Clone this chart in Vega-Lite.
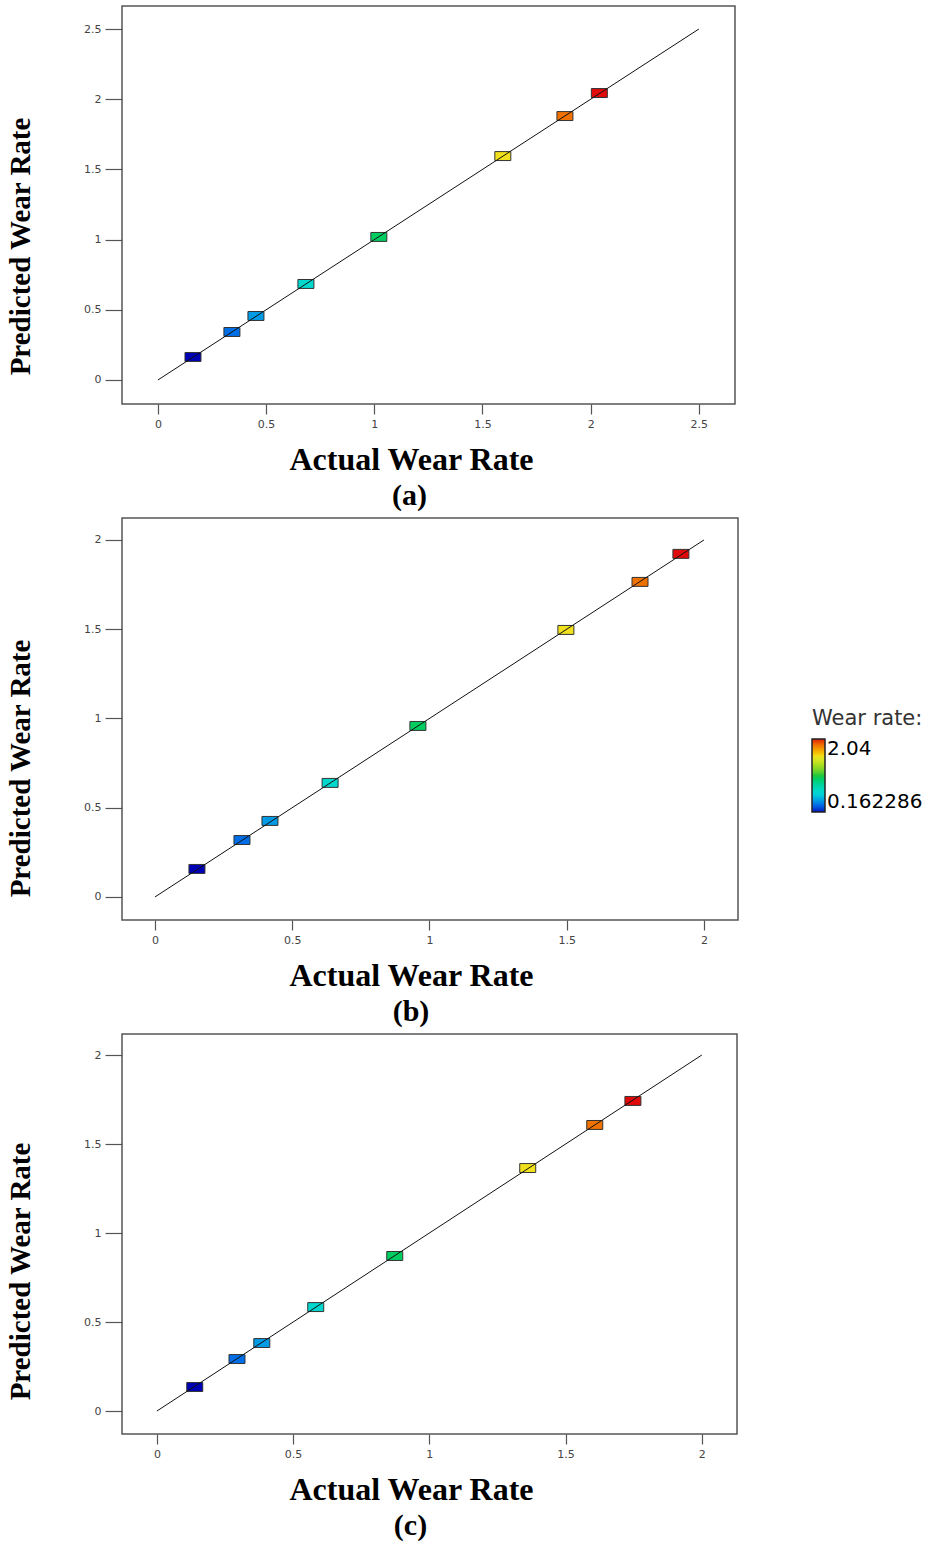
{
  "$schema": "https://vega.github.io/schema/vega-lite/v6.json",
  "background": "white",
  "padding": {"left": 5, "top": 5, "right": 5, "bottom": 5},
  "spacing": 5,
  "datasets": {
    "pts": [
      {"panel": "a", "run": 1, "rate": 0.162286, "actual": 0.162, "predicted": 0.164},
      {"panel": "a", "run": 2, "rate": 0.342, "actual": 0.342, "predicted": 0.342},
      {"panel": "a", "run": 3, "rate": 0.453, "actual": 0.453, "predicted": 0.456},
      {"panel": "a", "run": 4, "rate": 0.684, "actual": 0.684, "predicted": 0.684},
      {"panel": "a", "run": 5, "rate": 1.021, "actual": 1.021, "predicted": 1.019},
      {"panel": "a", "run": 6, "rate": 1.594, "actual": 1.594, "predicted": 1.595},
      {"panel": "a", "run": 7, "rate": 1.881, "actual": 1.881, "predicted": 1.880},
      {"panel": "a", "run": 8, "rate": 2.04, "actual": 2.04, "predicted": 2.044},
      {"panel": "b", "run": 1, "rate": 0.162286, "actual": 0.153, "predicted": 0.157},
      {"panel": "b", "run": 2, "rate": 0.342, "actual": 0.317, "predicted": 0.319},
      {"panel": "b", "run": 3, "rate": 0.453, "actual": 0.419, "predicted": 0.426},
      {"panel": "b", "run": 4, "rate": 0.684, "actual": 0.638, "predicted": 0.639},
      {"panel": "b", "run": 5, "rate": 1.021, "actual": 0.958, "predicted": 0.958},
      {"panel": "b", "run": 6, "rate": 1.594, "actual": 1.497, "predicted": 1.496},
      {"panel": "b", "run": 7, "rate": 1.881, "actual": 1.767, "predicted": 1.765},
      {"panel": "b", "run": 8, "rate": 2.04, "actual": 1.916, "predicted": 1.922},
      {"panel": "c", "run": 1, "rate": 0.162286, "actual": 0.139, "predicted": 0.135},
      {"panel": "c", "run": 2, "rate": 0.342, "actual": 0.294, "predicted": 0.292},
      {"panel": "c", "run": 3, "rate": 0.453, "actual": 0.385, "predicted": 0.382},
      {"panel": "c", "run": 4, "rate": 0.684, "actual": 0.583, "predicted": 0.584},
      {"panel": "c", "run": 5, "rate": 1.021, "actual": 0.873, "predicted": 0.871},
      {"panel": "c", "run": 6, "rate": 1.594, "actual": 1.361, "predicted": 1.365},
      {"panel": "c", "run": 7, "rate": 1.881, "actual": 1.607, "predicted": 1.607},
      {"panel": "c", "run": 8, "rate": 2.04, "actual": 1.747, "predicted": 1.742}
    ],
    "lines": [
      {"panel": "a", "actual": 0, "predicted": 0},
      {"panel": "a", "actual": 2.5, "predicted": 2.5},
      {"panel": "b", "actual": 0, "predicted": 0},
      {"panel": "b", "actual": 2, "predicted": 2},
      {"panel": "c", "actual": 0, "predicted": 0},
      {"panel": "c", "actual": 2, "predicted": 2}
    ]
  },
  "vconcat": [
    {
      "width": 613,
      "height": 398,
      "title": {"text": "(a)", "orient": "bottom", "anchor": "middle", "dx": -19, "offset": 6},
      "layer": [
        {
          "data": {"name": "pts"},
          "transform": [{"filter": "datum.panel === 'a'"}],
          "mark": {"type": "point", "filled": true, "shape": "M-1,-0.56H1V0.56H-1Z", "size": 256, "stroke": "#333", "strokeWidth": 1, "opacity": 1},
          "encoding": {
            "x": {"field": "actual", "type": "quantitative", "scale": {"domain": [-0.166, 2.667], "nice": false, "zero": false},
                  "axis": {"values": [0, 0.5, 1, 1.5, 2, 2.5], "title": "Actual Wear Rate", "titleX": 289}},
            "y": {"field": "predicted", "type": "quantitative", "scale": {"domain": [-0.171, 2.664], "nice": false, "zero": false},
                  "axis": {"values": [0, 0.5, 1, 1.5, 2, 2.5], "title": "Predicted Wear Rate", "titleY": 240}},
            "color": {"field": "rate", "type": "quantitative", "title": "Wear rate:",
                      "scale": {"domain": [0.162286, 0.631, 1.101, 1.57, 2.04], "range": ["#0000b4", "#2ad8d8", "#22c83a", "#f0ea2a", "#e00a0a"]},
                      "legend": {"values": [0.162286, 2.04], "labelExpr": "datum.value > 1 ? '2.04' : '0.162286'",
                                 "encode": {"labels": {"fill": {"condition": {"test": "datum.value > 1", "value": "#c0302a"}, "value": "#2a2f80"}}}}}
          }
        },
        {
          "data": {"name": "lines"},
          "transform": [{"filter": "datum.panel === 'a'"}],
          "mark": {"type": "line", "color": "#111", "strokeWidth": 1},
          "encoding": {
            "x": {"field": "actual", "type": "quantitative"},
            "y": {"field": "predicted", "type": "quantitative"}
          }
        }
      ]
    },
    {
      "width": 616,
      "height": 402,
      "title": {"text": "(b)", "orient": "bottom", "anchor": "middle", "dx": -19, "offset": 6},
      "layer": [
        {
          "data": {"name": "pts"},
          "transform": [{"filter": "datum.panel === 'b'"}],
          "mark": {"type": "point", "filled": true, "shape": "M-1,-0.56H1V0.56H-1Z", "size": 256, "stroke": "#333", "strokeWidth": 1, "opacity": 1},
          "encoding": {
            "x": {"field": "actual", "type": "quantitative", "scale": {"domain": [-0.12, 2.124], "nice": false, "zero": false},
                  "axis": {"values": [0, 0.5, 1, 1.5, 2], "title": "Actual Wear Rate", "titleX": 289}},
            "y": {"field": "predicted", "type": "quantitative", "scale": {"domain": [-0.129, 2.123], "nice": false, "zero": false},
                  "axis": {"values": [0, 0.5, 1, 1.5, 2], "title": "Predicted Wear Rate", "titleY": 250}},
            "color": {"field": "rate", "type": "quantitative", "title": "Wear rate:",
                      "legend": {"values": [0.162286, 2.04], "labelExpr": "datum.value > 1 ? '2.04' : '0.162286'",
                                 "encode": {"labels": {"fill": {"condition": {"test": "datum.value > 1", "value": "#c0302a"}, "value": "#2a2f80"}}}}}
          }
        },
        {
          "data": {"name": "lines"},
          "transform": [{"filter": "datum.panel === 'b'"}],
          "mark": {"type": "line", "color": "#111", "strokeWidth": 1},
          "encoding": {
            "x": {"field": "actual", "type": "quantitative"},
            "y": {"field": "predicted", "type": "quantitative"}
          }
        }
      ]
    },
    {
      "width": 615,
      "height": 400,
      "title": {"text": "(c)", "orient": "bottom", "anchor": "middle", "dx": -19, "offset": 6},
      "layer": [
        {
          "data": {"name": "pts"},
          "transform": [{"filter": "datum.panel === 'c'"}],
          "mark": {"type": "point", "filled": true, "shape": "M-1,-0.56H1V0.56H-1Z", "size": 256, "stroke": "#333", "strokeWidth": 1, "opacity": 1},
          "encoding": {
            "x": {"field": "actual", "type": "quantitative", "scale": {"domain": [-0.128, 2.129], "nice": false, "zero": false},
                  "axis": {"values": [0, 0.5, 1, 1.5, 2], "title": "Actual Wear Rate", "titleX": 289}},
            "y": {"field": "predicted", "type": "quantitative", "scale": {"domain": [-0.129, 2.118], "nice": false, "zero": false},
                  "axis": {"values": [0, 0.5, 1, 1.5, 2], "title": "Predicted Wear Rate", "titleY": 237}},
            "color": {"field": "rate", "type": "quantitative", "title": "Wear rate:",
                      "legend": {"values": [0.162286, 2.04], "labelExpr": "datum.value > 1 ? '2.04' : '0.162286'",
                                 "encode": {"labels": {"fill": {"condition": {"test": "datum.value > 1", "value": "#c0302a"}, "value": "#2a2f80"}}}}}
          }
        },
        {
          "data": {"name": "lines"},
          "transform": [{"filter": "datum.panel === 'c'"}],
          "mark": {"type": "line", "color": "#111", "strokeWidth": 1},
          "encoding": {
            "x": {"field": "actual", "type": "quantitative"},
            "y": {"field": "predicted", "type": "quantitative"}
          }
        }
      ]
    }
  ],
  "resolve": {"scale": {"x": "independent", "y": "independent", "color": "shared"}},
  "config": {
    "view": {"stroke": "#555", "strokeWidth": 1.5},
    "axis": {
      "domain": false, "grid": false,
      "tickColor": "#555", "tickWidth": 1.2,
      "labelFont": "DejaVu Sans", "labelFontSize": 11, "labelColor": "#444",
      "format": ".1~f",
      "titleFont": "Liberation Serif", "titleFontWeight": "bold", "titleColor": "#000"
    },
    "axisX": {"tickSize": 10, "labelPadding": 4, "titlePadding": 15, "titleFontSize": 32},
    "axisY": {"tickSize": 17, "labelPadding": 4, "titlePadding": 48, "titleFontSize": 29},
    "title": {"font": "Liberation Serif", "fontWeight": "bold", "fontSize": 30, "color": "#000"},
    "legend": {
      "orient": "none", "legendX": 690, "legendY": 702,
      "titleFont": "DejaVu Sans", "titleFontSize": 21, "titleFontWeight": "normal", "titleColor": "#333", "titlePadding": 10,
      "labelFont": "DejaVu Sans", "labelFontSize": 20, "labelOffset": 3,
      "gradientLength": 73, "gradientThickness": 13, "gradientStrokeColor": "#222", "gradientStrokeWidth": 1.5
    }
  }
}
